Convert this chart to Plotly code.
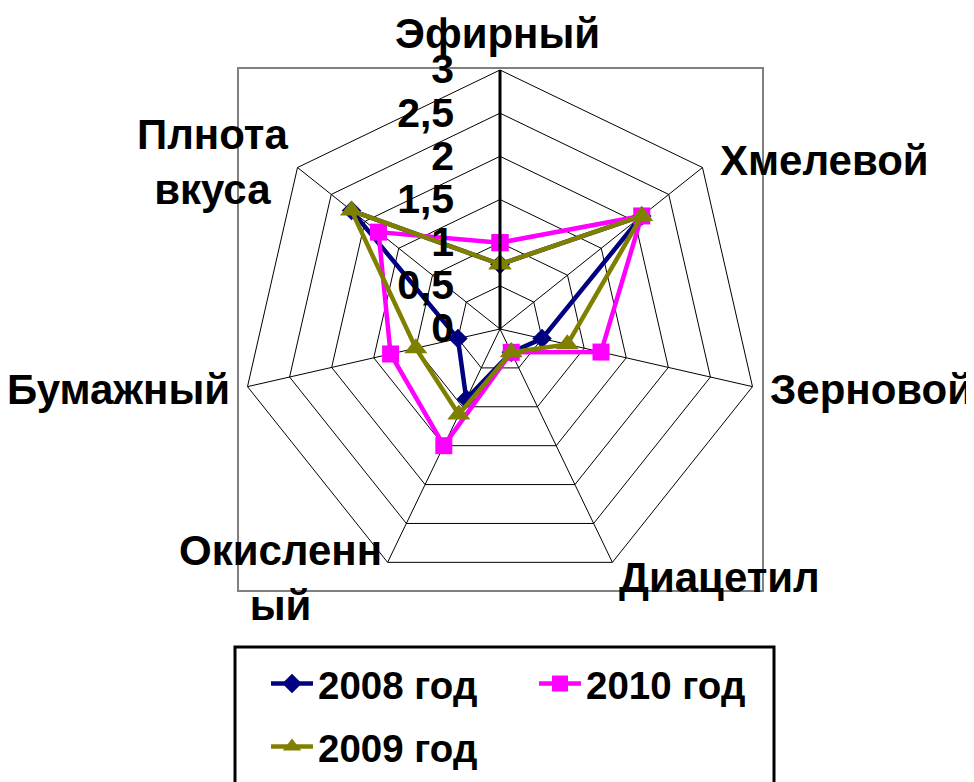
import plotly.graph_objects as go

categories = ["Эфирный", "Хмелевой", "Зерновой", "Диацетил", "Окисленный", "Бумажный", "Плнота вкуса"]
category_labels = ["Эфирный", "Хмелевой", "Зерновой", "Диацетил", "Окисленн<br>ый", "Бумажный", "Плнота<br>вкуса"]
series_names = ["2008 год", "2010 год", "2009 год"]
values_2008 = [0.75, 2.1, 0.5, 0.3, 0.9, 0.5, 2.2]
values_2010 = [1.0, 2.1, 1.2, 0.3, 1.5, 1.3, 1.8]
values_2009 = [0.75, 2.1, 0.8, 0.3, 1.1, 1.0, 2.2]
radial_ticks = [0, 0.5, 1, 1.5, 2, 2.5, 3]

FONT = "Arial, Liberation Sans, sans-serif"

styles = [
    (values_2008, "#000080", "diamond", 15, "legend"),
    (values_2010, "#FF00FF", "square", 17, "legend2"),
    (values_2009, "#808000", "triangle-up", 20, "legend3"),
]

fig = go.Figure()
for name, (vals, color, sym, size, leg) in zip(series_names, styles):
    fig.add_trace(go.Scatterpolar(
        r=vals + vals[:1],
        theta=categories + categories[:1],
        name=name,
        legend=leg,
        mode="lines+markers",
        line=dict(color=color, width=4.5),
        marker=dict(symbol=sym, size=size, color=color),
    ))

W, H = 974, 782
OFF = 8  # page body margin
ml, mr = 226, 207
gw = W - ml - mr

def px(x):
    return (x - OFF - ml) / gw

def py(y):
    return (H - (y - OFF)) / H

LEG_FONT = dict(family=FONT, size=38.5, color="black", weight="bold")

def legend_at(xs, ys):
    return dict(
        orientation="h",
        x=px(xs), xanchor="left",
        y=py(ys), yanchor="top",
        borderwidth=0,
        bgcolor="rgba(0,0,0,0)",
        itemwidth=42,
        font=LEG_FONT,
    )

# category label placement (screen px): x, y, xanchor
label_pos = [
    (497, 33, "center"),
    (718, 161, "left"),
    (768, 389, "left"),
    (617, 577, "left"),
    (280, 578, "center"),
    (232, 389, "right"),
    (212, 162, "center"),
]

annotations = []
for lab, (lx, ly, xa) in zip(category_labels, label_pos):
    annotations.append(dict(
        text=lab, xref="paper", yref="paper",
        x=px(lx), y=py(ly), xanchor=xa, yanchor="middle",
        align="center", showarrow=False,
        font=dict(family=FONT, size=42, color="black", weight="bold"),
    ))

fig.update_layout(
    width=W, height=H,
    margin=dict(l=ml, r=mr, t=0, b=0),
    paper_bgcolor="white",
    plot_bgcolor="white",
    separators=", ",
    font=dict(family=FONT, color="black", size=40, weight="bold"),
    polar=dict(
        domain=dict(x=[px(241), px(759)], y=[py(588), py(70)]),
        bgcolor="white",
        gridshape="linear",
        radialaxis=dict(
            range=[0, 3],
            tickvals=radial_ticks,
            angle=90,
            tickangle=90,
            side="counterclockwise",
            showline=True,
            linecolor="black",
            linewidth=3,
            gridcolor="black",
            gridwidth=1,
            ticks="outside",
            ticklen=30,
            tickcolor="rgba(0,0,0,0)",
            tickfont=dict(family=FONT, size=41, color="black", weight="bold"),
        ),
        angularaxis=dict(
            rotation=90,
            direction="clockwise",
            showline=True,
            linecolor="black",
            linewidth=1,
            gridcolor="black",
            gridwidth=1,
            ticks="",
            showticklabels=False,
        ),
    ),
    showlegend=True,
    legend=legend_at(266, 652),
    legend2=legend_at(534, 652),
    legend3=legend_at(266, 715),
    annotations=annotations,
    shapes=[
        dict(type="rect", xref="paper", yref="paper",
             x0=px(238), x1=px(763), y0=py(591), y1=py(68),
             line=dict(color="#808080", width=2), layer="below"),
        dict(type="rect", xref="paper", yref="paper",
             x0=px(235), x1=px(774), y0=py(820), y1=py(647),
             line=dict(color="black", width=3), layer="above"),
    ],
)

fig.write_html("out.html")
